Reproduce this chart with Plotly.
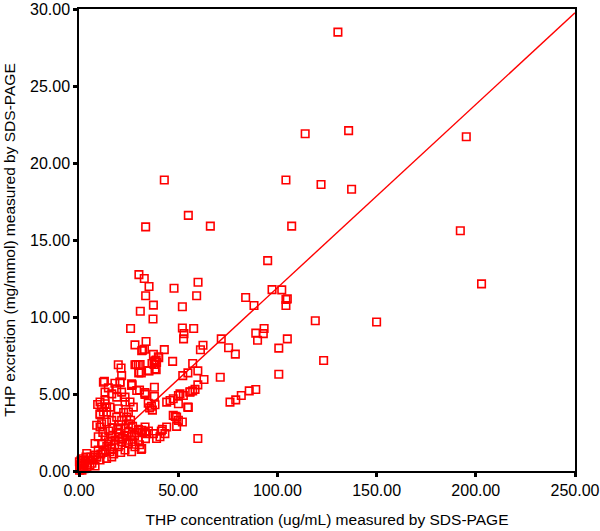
import plotly.graph_objects as go

# THP concentration (ug/mL) vs THP excretion (mg/mmol)
conc = [
    130.5, 114, 135.9, 195.2, 104.3, 122, 137.4, 107.2, 192.2, 43, 33.6, 55.1, 66.2, 95.1,
    202.9, 150, 119.1, 123.3, 105, 100.7, 100.7, 102.2, 104.3, 105, 104.3, 97.3,
    30.2, 32.9, 35.3, 33.6, 37.5, 30.9, 37.3, 47.9, 60, 59.3, 52.1, 52.1, 52.9, 52.7, 57.8,
    26.0, 28.2, 33.8, 32.1, 33.0, 37.5, 43, 40.2, 38.9, 37.8, 38.9, 36.8, 47.2, 28.8, 30.8,
    30.1, 31.4, 35.3, 62.5, 61.2, 57.3, 59.9, 54.9, 52.3, 63, 59.9, 71.7, 75.4, 78.8, 71.2,
    84, 88.2, 89.1, 93.3, 92.9, 90, 76.1, 79, 81.8, 85.8, 89.1, 59.9, 55.1, 57.3, 56, 58.5,
    50.1, 50.9, 52.6, 55.9, 44.2, 45.9, 47.5, 50.1, 54.8, 47.5, 49.2, 50.1, 52.1, 49.2, 48.5,
    38, 33.3, 38, 33.2, 34.9, 36.5, 38.3, 35.6, 37, 33.3, 34.1, 37.5, 39.1, 40.8, 43.3, 44.2,
    31.4, 32, 35, 30, 29, 41.5, 42, 26.8, 30.5,
    19.8, 21.2, 21.5, 20.7, 12.8, 26.5, 31.6, 40, 38.3, 39.1, 38.3, 28.2, 29.9, 30.4, 34.9,
    12.3, 14.8, 18.1, 20.7, 13.1, 16.5, 19, 21.5, 26.5, 29.1, 33.3, 23.2, 19, 10.6, 13.1,
    15.6, 19.8, 23.2, 25.7, 27.4, 24.9, 10.6, 13.9, 13.9, 16.5, 19, 21.5, 24.9, 24, 8.9,
    11.4, 23.2, 29.9, 31.6, 33.3, 9.7, 13.1, 16.5, 19.8, 23.2, 26.5, 29.9, 8.1, 11.4, 14.8,
    18.1, 21.5, 24.9, 28.2, 31.6, 9.7, 13.1, 16.5, 19.8, 23.2, 26.5, 8.1, 3.9, 4.7, 7.2,
    10.6, 13.9, 16.5, 5.5, 8.1, 1.3, 0.8, 1.5,
    15, 17, 20, 22, 18, 21, 25, 27, 12, 14, 17.5, 19.5, 22.5, 26, 11, 6, 2, 3, 0.5, 1,
    2.5, 0.3, 4, 2, 0.2, 3.5, 6.5, 9, 12, 15.5, 28, 24, 20.5, 16, 27, 30.5, 33.5,
    9.4, 11.4, 10.6, 13.1, 13.9, 12.3, 10.6,
]
excretion = [
    28.5, 21.9, 22.1, 21.7, 18.9, 18.6, 18.3, 15.9, 15.6, 18.9, 15.85, 16.6, 15.9, 13.66,
    12.15, 9.68, 9.76, 7.18, 8.58, 7.98, 6.28, 11.76, 11.14, 11.18, 10.75, 11.78,
    12.75, 12.5, 11.98, 11.38, 10.77, 10.37, 9.87, 11.87, 12.26, 11.38, 10.67, 9.29, 8.92, 8.58, 9.25,
    9.25, 8.19, 8.41, 7.85, 7.91, 7.57, 7.88, 7.35, 7.2, 6.92, 6.58, 6.98, 7.12, 6.92, 6.92,
    6.37, 6.37, 6.5, 8.17, 7.87, 6.98, 6.5, 6.37, 6.19, 5.94, 5.59, 8.58, 8.0, 7.59, 6.09,
    11.27, 10.75, 8.95, 9.25, 8.92, 8.49, 4.47, 4.62, 4.9, 5.2, 5.29, 2.11, 4.13, 5.2, 5.15, 5.3,
    4.9, 5.01, 4.9, 5.12, 4.47, 4.58, 4.69, 4.37, 4.15, 3.61, 3.5, 3.29, 3.18, 2.9, 3.55,
    5.44, 4.97, 4.84, 5.1, 4.4, 4.2, 4.3, 4.1, 3.95, 2.86, 2.43, 2.43, 2.11, 2.22, 2.43, 2.86,
    1.4, 2.5, 2.6, 2.7, 2.5, 2.6, 2.7, 5.6, 5.25,
    6.9, 6.69, 6.19, 5.77, 5.83, 5.66, 7.81, 7.42, 7.16, 7.05, 6.62, 6.9, 6.9, 6.41, 6.52,
    5.76, 5.4, 5.7, 5.76, 5.12, 5.01, 5.33, 5.12, 5.55, 5.23, 5.01, 4.8, 4.8, 4.48, 4.37,
    4.15, 4.04, 4.48, 4.48, 4.15, 3.83, 3.72, 3.83, 3.18, 3.29, 3.5, 3.29, 3.07, 3.5, 2.97,
    3.07, 2.75, 2.65, 2.65, 2.54, 2.22, 2.22, 2.22, 2.43, 2.32, 2.22, 2.0, 1.79, 1.79, 1.9,
    2.0, 1.9, 1.79, 1.57, 1.46, 1.36, 1.36, 1.46, 1.57, 1.36, 1.25, 1.03, 1.14, 0.71, 0.71,
    0.71, 0.82, 0.92, 0.39, 0.32, 0.49, 0.17, 0.06,
    2.6, 2.8, 3.0, 2.1, 1.7, 1.2, 2.5, 2.9, 2.5, 1.6, 1.1, 2.7, 3.8, 3.3, 1.1, 0.9, 0.3, 0.6, 0.4, 0.7,
    0.15, 0.05, 0.3, 0.8, 0.6, 0.9, 0.5, 0.9, 1.2, 1.25, 2.3, 2.0, 2.2, 1.95, 1.9, 1.7, 2.1,
    4.32, 4.15, 3.66, 4.58, 4.15, 3.83, 2.86,
]

# reference line through the origin
line_x = [0, 250]
line_y = [0, 29.75]

RED = "#ff0000"
FONT = "Liberation Sans, Arial, sans-serif"

fig = go.Figure()
fig.add_trace(go.Scatter(
    x=conc, y=excretion, mode="markers", cliponaxis=False,
    marker=dict(symbol="square-open", size=7.5, color=RED, line=dict(width=1.6, color=RED)),
    showlegend=False,
))
fig.add_trace(go.Scatter(
    x=line_x, y=line_y, mode="lines", line=dict(color=RED, width=1.4), showlegend=False,
))

axis_style = dict(
    showline=True, linecolor="black", linewidth=1.5, mirror=True,
    ticks="outside", ticklen=4, tickwidth=2.5, tickcolor="black",
    showgrid=False, zeroline=False, tickformat=".2f", automargin=False,
    ticklabeloverflow="allow",
    tickfont=dict(family=FONT, size=16, color="black"),
)
fig.update_xaxes(range=[0, 250], dtick=50, **axis_style,
                 title=dict(text="THP concentration (ug/mL) measured by SDS-PAGE",
                            font=dict(family=FONT, size=15.5, color="black"), standoff=16))
fig.update_yaxes(range=[0, 30], dtick=5, **axis_style,
                 title=dict(text="THP excretion (mg/mmol) measured by SDS-PAGE",
                            font=dict(family=FONT, size=15.5, color="black"), standoff=11))

fig.update_layout(
    width=600, height=531,
    margin=dict(l=79, r=25, t=9, b=60),
    plot_bgcolor="white", paper_bgcolor="white",
)

# drop the page's default body margin so the figure sits at the window's corner
fig.write_html("out.html", config={"displayModeBar": False},
               post_script="document.body.style.margin = '0';")
